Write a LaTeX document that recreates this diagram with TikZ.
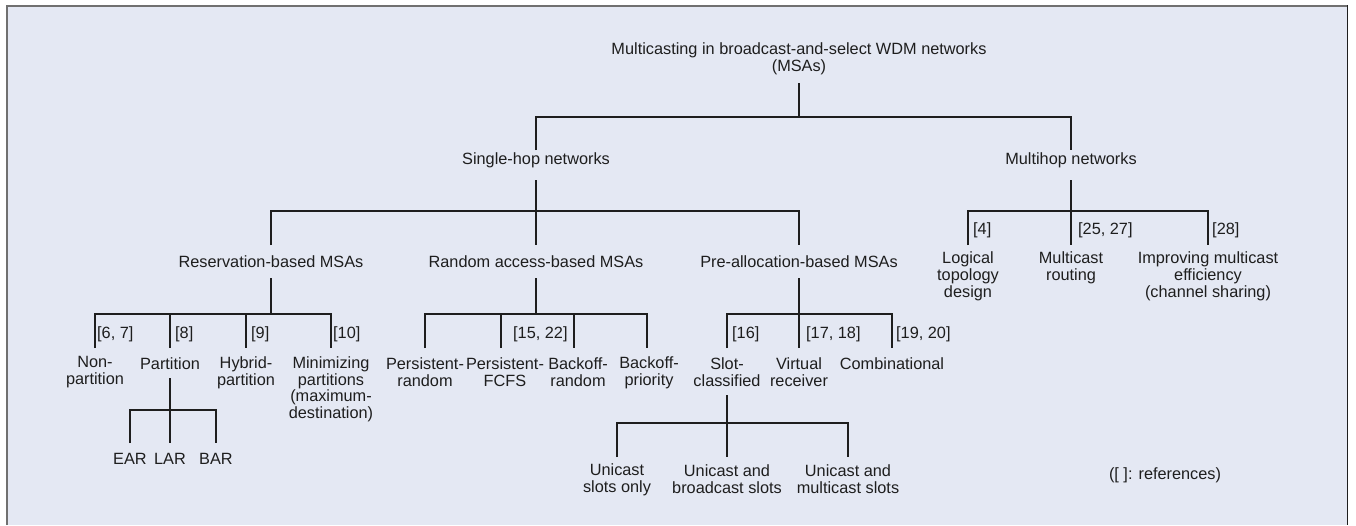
\documentclass[tikz,border=0pt]{standalone}
\usepackage{fontspec}
\setmainfont{Liberation Sans}
\definecolor{bgc}{RGB}{228,232,243}
\definecolor{framegray}{RGB}{112,112,112}
\definecolor{linec}{RGB}{30,30,30}
\begin{document}
\begin{tikzpicture}[x=1pt,y=-1pt,
  every node/.style={font=\fontsize{16.3}{16.8}\selectfont, inner sep=0pt, align=center, text=linec},
  ln/.style={line width=1.2pt, draw=linec},
  ref/.style={anchor=west}]
\useasboundingbox (0,0) rectangle (1356,525);
\fill[bgc] (6,5) rectangle (1348,525);
\draw[line width=2pt, draw=framegray] (6.8,525) -- (6.8,5.6) -- (1347,5.6);
\draw[line width=1pt, draw=linec] (1347.8,5) -- (1347.8,525);

% level coordinates
\coordinate (r1) at (0,83);  \coordinate (b1) at (0,117); \coordinate (c1) at (0,150);
\coordinate (r2) at (0,180); \coordinate (b2) at (0,211); \coordinate (c2) at (0,245);
\coordinate (r3) at (0,278); \coordinate (b3) at (0,314); \coordinate (c3) at (0,348);
\coordinate (r4) at (0,378); \coordinate (b4) at (0,410); \coordinate (c4) at (0,443);
\coordinate (r5) at (0,395); \coordinate (b5) at (0,423); \coordinate (c5) at (0,457);
% stem positions for labels set slightly off their lines
\coordinate (pfs) at (501,0);
\coordinate (brs) at (574,0);
\coordinate (bps) at (647,0);

% nodes
\node (root) at (799,59) {Multicasting in broadcast-and-select WDM networks\\(MSAs)};
\node (sh) at (536,160) {Single-hop networks};
\node (mh) at (1071,160) {Multihop networks};
\node (res) at (271,262) {Reservation-based MSAs};
\node (rnd) at (536,262) {Random access-based MSAs};
\node (pre) at (799,262) {Pre-allocation-based MSAs};

\node (lt) at (968,276) {Logical\\topology\\design};
\node (mr) at (1071,268) {Multicast\\routing};
\node (im) at (1208,276) {Improving multicast\\efficiency\\(channel sharing)};
\node[ref] (r4n) at (973,230) {[4]};
\node[ref] (r2527) at (1078,230) {[25, 27]};
\node[ref] (r28) at (1212,230) {[28]};

\node (np) at (95,372.4) {Non-\\partition};
\node (pa) at (170,364) {Partition};
\node (hp) at (246,372.4) {Hybrid-\\partition};
\node (mp) at (331,389.2) {Minimizing\\partitions\\(maximum-\\destination)};
\node (pr) at (425,372.4) {Persistent-\\random};
\node (pf) at (505,372.4) {Persistent-\\FCFS};
\node (brn) at (578,372.4) {Backoff-\\random};
\node (bp) at (649,372.4) {Backoff-\\priority};
\node (sc) at (727,372.4) {Slot-\\classified};
\node (vr) at (799,372.4) {Virtual\\receiver};
\node (cb) at (892,364) {Combinational};

\node[ref] (r67) at (97,334) {[6, 7]};
\node[ref] (r8) at (175,334) {[8]};
\node[ref] (r9) at (251,334) {[9]};
\node[ref] (r10) at (333,334) {[10]};
\node[ref] (r1522) at (513,334) {[15, 22]};
\node[ref] (r16) at (732,334) {[16]};
\node[ref] (r1718) at (806,334) {[17, 18]};
\node[ref] (r1920) at (896,334) {[19, 20]};

\node (ear) at (130,459) {EAR};
\node (lar) at (170,459) {LAR};
\node (bar) at (216,459) {BAR};

\node (u1) at (617,479.5) {Unicast\\slots only};
\node (u2) at (727,479.5) {Unicast and\\broadcast slots};
\node (u3) at (848,479.5) {Unicast and\\multicast slots};

\node (note) at (1165,475) {([ ]: references)};

% connectors
\draw[ln] (root |- r1) -- (root |- b1);
\draw[ln] (sh |- c1) -- (sh |- b1) -- (mh |- b1) -- (mh |- c1);

\draw[ln] (sh |- r2) -- (sh |- b2);
\draw[ln] (res |- c2) -- (res |- b2) -- (pre |- b2) -- (pre |- c2);
\draw[ln] (rnd |- b2) -- (rnd |- c2);

\draw[ln] (mh |- r2) -- (mh |- b2);
\draw[ln] (lt |- c2) -- (lt |- b2) -- (im |- b2) -- (im |- c2);
\draw[ln] (mr |- b2) -- (mr |- c2);

\draw[ln] (res |- r3) -- (res |- b3);
\draw[ln] (np |- c3) -- (np |- b3) -- (mp |- b3) -- (mp |- c3);
\draw[ln] (pa |- b3) -- (pa |- c3);
\draw[ln] (hp |- b3) -- (hp |- c3);

\draw[ln] (rnd |- r3) -- (rnd |- b3);
\draw[ln] (pr |- c3) -- (pr |- b3) -- (bps |- b3) -- (bps |- c3);
\draw[ln] (pfs |- b3) -- (pfs |- c3);
\draw[ln] (brs |- b3) -- (brs |- c3);

\draw[ln] (pre |- r3) -- (pre |- b3);
\draw[ln] (sc |- c3) -- (sc |- b3) -- (cb |- b3) -- (cb |- c3);
\draw[ln] (vr |- b3) -- (vr |- c3);

\draw[ln] (pa |- r4) -- (pa |- b4);
\draw[ln] (ear |- c4) -- (ear |- b4) -- (bar |- b4) -- (bar |- c4);
\draw[ln] (lar |- b4) -- (lar |- c4);

\draw[ln] (sc |- r5) -- (sc |- b5);
\draw[ln] (u1 |- c5) -- (u1 |- b5) -- (u3 |- b5) -- (u3 |- c5);
\draw[ln] (u2 |- b5) -- (u2 |- c5);
\end{tikzpicture}
\end{document}
